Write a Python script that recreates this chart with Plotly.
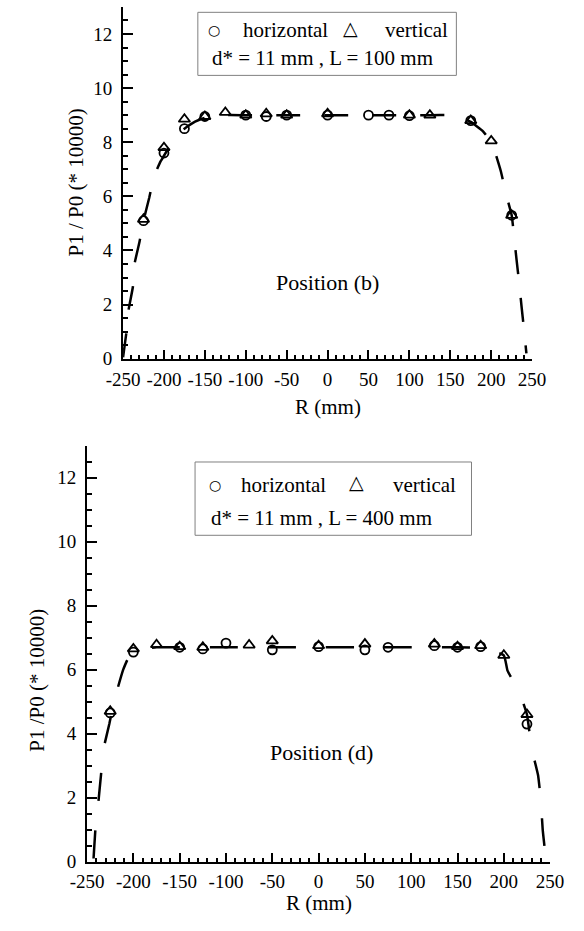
import plotly.graph_objects as go

# ---- Position (b): d* = 11 mm, L = 100 mm ----
b_horiz_r = [-225, -200, -175, -150, -100, -75, -50, 0, 50, 75, 100, 175, 225]
b_horiz_p = [5.1, 7.6, 8.5, 8.95, 9.0, 8.95, 9.0, 9.0, 9.0, 9.0, 8.98, 8.8, 5.3]
b_vert_r = [-225, -200, -175, -150, -125, -100, -75, -50, 0, 100, 125, 175, 200, 225]
b_vert_p = [5.15, 7.8, 8.85, 8.95, 9.1, 9.0, 9.05, 9.0, 9.05, 9.0, 9.0, 8.8, 8.05, 5.3]
b_fit_r = [-250, -246, -243, -238, -236, -230, -225, -218, -212, -204, -200, -185, -175,
           -162, -150, -125, -100, -50, 0, 50, 100, 125, 150, 162, 175, 190, 200, 205,
           212, 218, 225, 228, 231, 234, 237, 240, 243]
b_fit_p = [0.05, 0.95, 1.85, 2.65, 3.5, 4.3, 5.1, 5.95, 6.75, 7.3, 7.5, 8.25, 8.5,
           8.76, 8.9, 9.0, 9.0, 9.0, 9.0, 9.0, 9.0, 9.0, 9.0, 8.95, 8.75, 8.4, 8.0, 7.6,
           6.9, 6.1, 5.3, 4.5, 3.65, 2.85, 1.95, 1.1, 0.2]

# ---- Position (d): d* = 11 mm, L = 400 mm ----
d_horiz_r = [-225, -200, -150, -125, -100, -50, 0, 50, 75, 125, 150, 175, 225]
d_horiz_p = [4.65, 6.55, 6.7, 6.65, 6.83, 6.62, 6.72, 6.62, 6.7, 6.75, 6.7, 6.72, 4.3]
d_vert_r = [-225, -200, -175, -150, -125, -75, -50, 0, 50, 125, 150, 175, 200, 225]
d_vert_p = [4.7, 6.65, 6.78, 6.72, 6.7, 6.77, 6.9, 6.75, 6.8, 6.8, 6.72, 6.75, 6.45, 4.6]
d_fit_r = [-243, -241, -238, -235, -232, -226, -221, -211, -205, -200, -175, -150, -100,
           -50, 0, 50, 100, 150, 175, 200, 204, 211, 218, 225, 230, 237, 240, 242, 245]
d_fit_p = [0.1, 1.0, 1.8, 2.7, 3.55, 4.3, 5.0, 6.0, 6.4, 6.58, 6.7, 6.7, 6.7,
           6.7, 6.7, 6.7, 6.7, 6.7, 6.68, 6.45, 5.97, 5.6, 5.2, 4.6, 3.55, 2.7, 1.9, 1.0, 0.2]

x_ticks = [-250, -200, -150, -100, -50, 0, 50, 100, 150, 200, 250]
x_tick_text = ["-250", "-200", "-150", "-100", "-50", "0", "50", "100", "150", "200", "250"]
y_ticks = [0, 2, 4, 6, 8, 10, 12]

SERIF = "Liberation Serif"
SYM = "DejaVu Sans"

fig = go.Figure()


def add_panel(fit_r, fit_p, h_r, h_p, v_r, v_p, xa, ya, dash):
    fig.add_trace(go.Scatter(
        x=fit_r, y=fit_p, mode="lines", xaxis=xa, yaxis=ya,
        line=dict(color="black", width=2.5, dash=dash, shape="spline", smoothing=0.4),
        hoverinfo="skip"))
    fig.add_trace(go.Scatter(
        x=h_r, y=h_p, mode="markers", xaxis=xa, yaxis=ya, name="horizontal",
        marker=dict(symbol="circle-open", size=9, color="black", line=dict(width=1.8))))
    fig.add_trace(go.Scatter(
        x=v_r, y=v_p, mode="markers", xaxis=xa, yaxis=ya, name="vertical",
        marker=dict(symbol="triangle-up-open", size=10, color="black", line=dict(width=1.8))))


add_panel(b_fit_r, b_fit_p, b_horiz_r, b_horiz_p, b_vert_r, b_vert_p, "x", "y", "24px,24px")
add_panel(d_fit_r, d_fit_p, d_horiz_r, d_horiz_p, d_vert_r, d_vert_p, "x2", "y2", "28px,30px")


def xaxis_style(domain, anchor):
    return dict(
        domain=domain, anchor=anchor, range=[-250, 250],
        tickmode="array", tickvals=x_ticks, ticktext=x_tick_text,
        ticks="inside", ticklen=9, tickwidth=2, tickcolor="black",
        showline=True, linewidth=2, linecolor="black",
        minor=dict(dtick=10, tick0=0, ticks="inside", ticklen=4, tickwidth=1.5, tickcolor="black"),
        showgrid=False, zeroline=False, ticklabelstandoff=2,
        tickfont=dict(family=SERIF, size=19, color="black"))


def yaxis_style(domain, anchor):
    return dict(
        domain=domain, anchor=anchor, range=[0, 13],
        tickmode="array", tickvals=y_ticks,
        ticks="inside", ticklen=10, tickwidth=2, tickcolor="black",
        showline=True, linewidth=2, linecolor="black",
        minor=dict(dtick=0.5, tick0=0, ticks="inside", ticklen=5, tickwidth=1.5, tickcolor="black"),
        showgrid=False, zeroline=False, ticklabelstandoff=5,
        tickfont=dict(family=SERIF, size=19, color="black"))


W, H = 584, 931
fig.update_layout(
    width=W, height=H, margin=dict(l=0, r=0, t=0, b=0),
    paper_bgcolor="white", plot_bgcolor="white", showlegend=False,
    font=dict(family=SERIF, color="black"),
    xaxis=xaxis_style([112 / W, 544 / W], "y"),
    yaxis=yaxis_style([1 - 363 / H, 1 - 7 / H], "x"),
    xaxis2=xaxis_style([74 / W, 563 / W], "y2"),
    yaxis2=yaxis_style([1 - 872 / H, 1 - 451 / H], "x2"),
)

ann = []
shapes = []


def legend_box(xr, yr, x0, x1, y0, y1, sym_c, txt_h, sym_t, txt_v, y_l1, x_l2, y_l2, label2):
    shapes.append(dict(type="rect", xref=xr, yref=yr, x0=x0, x1=x1, y0=y0, y1=y1,
                       line=dict(color="#808080", width=1), fillcolor="white", layer="above"))
    ann.append(dict(xref=xr, yref=yr, x=sym_c, y=y_l1, text="○", showarrow=False,
                    font=dict(family=SYM, size=14, color="black"), xanchor="center", yanchor="middle"))
    ann.append(dict(xref=xr, yref=yr, x=txt_h, y=y_l1, text="horizontal", showarrow=False,
                    font=dict(family=SERIF, size=21, color="black"), xanchor="left", yanchor="middle"))
    ann.append(dict(xref=xr, yref=yr, x=sym_t, y=y_l1 + 0.08, text="△", showarrow=False,
                    font=dict(family=SYM, size=19, color="black"), xanchor="center", yanchor="middle"))
    ann.append(dict(xref=xr, yref=yr, x=txt_v, y=y_l1, text="vertical", showarrow=False,
                    font=dict(family=SERIF, size=21, color="black"), xanchor="left", yanchor="middle"))
    ann.append(dict(xref=xr, yref=yr, x=x_l2, y=y_l2, text=label2, showarrow=False,
                    font=dict(family=SERIF, size=21, color="black"), xanchor="left", yanchor="middle"))


legend_box("x", "y", -158.6, 157.4, 10.47, 12.8, -139, -105.3, 27.8, 68.3, 12.15,
           -143.5, 11.1, "d* = 11 mm , L = 100 mm")
legend_box("x2", "y2", -133.4, 165.1, 10.2, 12.49, -112.4, -85.8, 41.4, 78.2, 11.78,
           -118, 10.74, "d* = 11 mm , L = 400 mm")

# panel labels
ann.append(dict(xref="x", yref="y", x=0, y=2.8, text="Position (b)", showarrow=False,
                font=dict(family=SERIF, size=22, color="black")))
ann.append(dict(xref="x2", yref="y2", x=3, y=3.4, text="Position (d)", showarrow=False,
                font=dict(family=SERIF, size=22, color="black")))

# axis titles
ann.append(dict(xref="x", yref="paper", x=0, y=1 - 412 / H, text="R (mm)", showarrow=False,
                font=dict(family=SERIF, size=21, color="black"), yanchor="middle"))
ann.append(dict(xref="x2", yref="paper", x=0, y=1 - 914 / H, text="R (mm)", showarrow=False,
                font=dict(family=SERIF, size=21, color="black"), yanchor="middle"))
ann.append(dict(xref="paper", yref="paper", x=62 / W, y=1 - 185 / H, text="P1 / P0 (* 10000)",
                showarrow=False, textangle=-90, xanchor="center", yanchor="middle",
                font=dict(family=SERIF, size=21, color="black")))
ann.append(dict(xref="paper", yref="paper", x=21 / W, y=1 - 688 / H, text="P1 /P0 (* 10000)",
                showarrow=False, textangle=-90, xanchor="center", yanchor="middle",
                font=dict(family=SERIF, size=21, color="black")))

fig.update_layout(annotations=ann, shapes=shapes)
fig.write_html("out.html")
